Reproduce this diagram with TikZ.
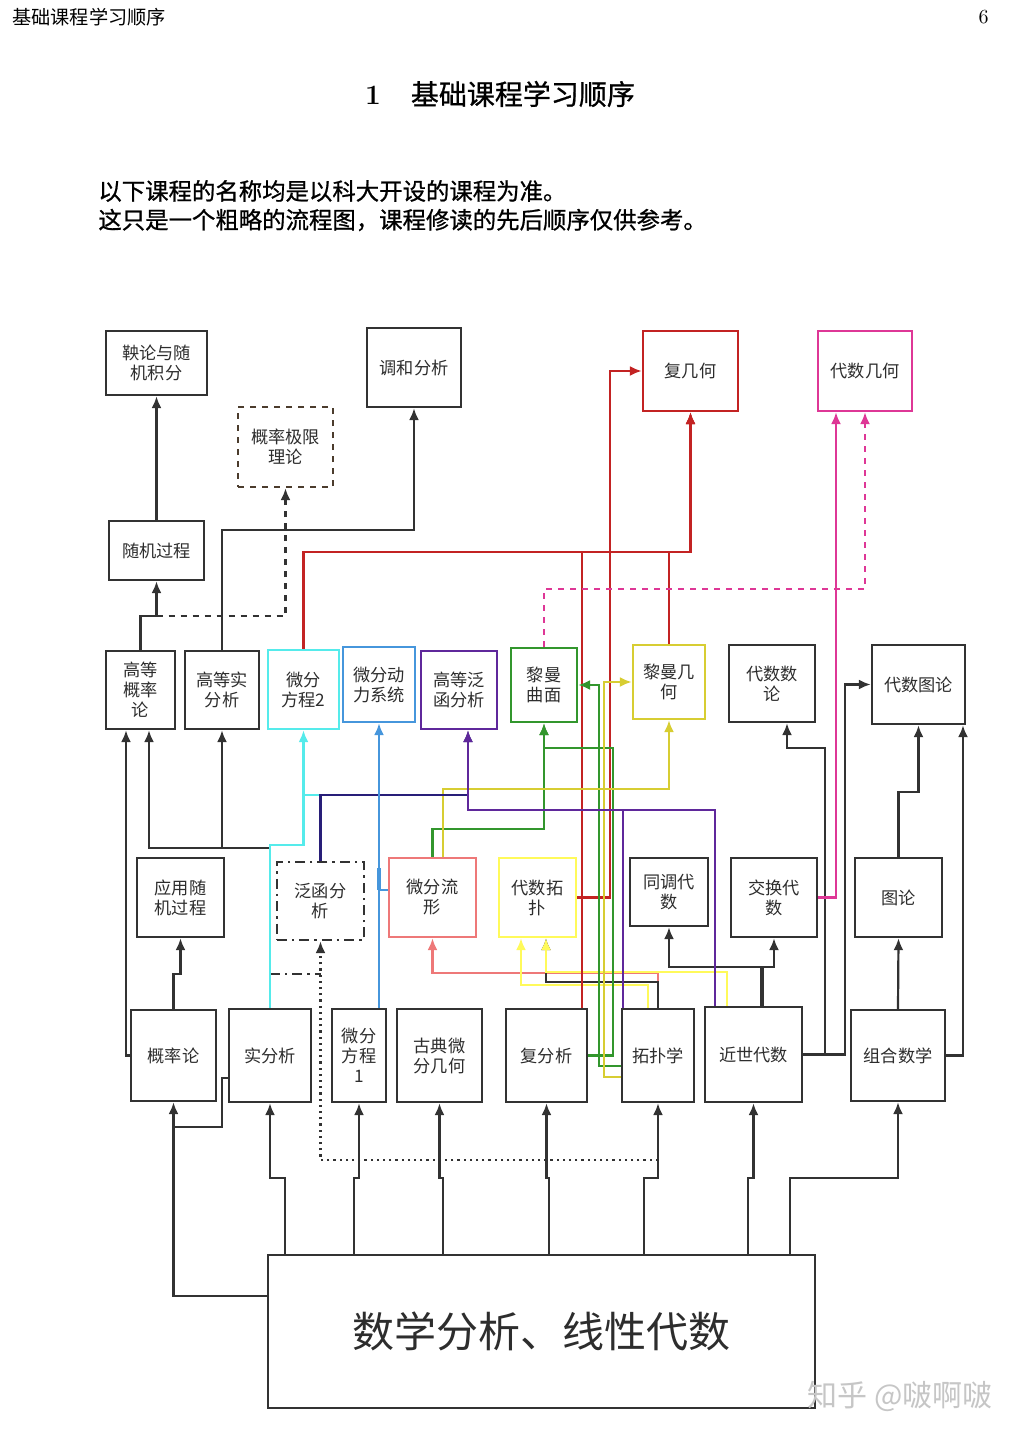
\documentclass[tikz,border=0pt]{standalone}
\usepackage{fontspec}
\newfontfamily\cjk{Noto Sans CJK SC}
\newfontfamily\cjkm{Noto Sans CJK SC}[FakeBold=0.8]
\usetikzlibrary{arrows.meta,calc,positioning}

\definecolor{dgray}{RGB}{50,50,50}
\definecolor{tgray}{RGB}{45,45,45}
\definecolor{cred}{RGB}{195,35,35}
\definecolor{cmag}{RGB}{222,55,150}
\definecolor{ccyan}{RGB}{85,235,235}
\definecolor{cblue}{RGB}{70,150,220}
\definecolor{cpurple}{RGB}{95,40,155}
\definecolor{cnavy}{RGB}{40,30,120}
\definecolor{cgreen}{RGB}{50,150,45}
\definecolor{colive}{RGB}{215,205,50}
\definecolor{clemon}{RGB}{255,250,90}
\definecolor{csalmon}{RGB}{238,120,120}
\definecolor{cbrown}{RGB}{75,60,45}

\tikzset{box/.style={
            draw=dgray,
            line width=1.2pt,
            fill=white,
            inner sep=0pt,
            align=center,
            text=tgray,
            font=\cjk\fontsize{8.6pt}{10pt}\selectfont
        },
        sz/.style 2 args={
            minimum width=#1*0.5pt,
            minimum height=#2*0.5pt
        },
        line/.style={
            color=dgray,
            line width=1.1pt
        },
        arr/.style={
            line,
            -{Latex[length=6pt,width=5pt]}
        }
    }

\begin{document}
\begin{tikzpicture}[x=0.5pt,y=-0.5pt]
        \useasboundingbox (0,0) rectangle (1022,1441);
        \fill[white] (0,0) rectangle (1022,1441);
        % page head and text
        \node[anchor=west,inner sep=0pt,font=\cjk\fontsize{9.6pt}{11pt}\selectfont] (head) at (12,17) {基础课程学习顺序};
        \node[anchor=east,inner sep=0pt,font=\fontsize{10pt}{12pt}\selectfont] (pnum) at (989,17) {6};
        \node[font=\fontsize{14pt}{16pt}\selectfont] (title) at (500,94) {\textbf{1}\hspace{15pt}{\cjkm 基础课程学习顺序}};
        \node[anchor=west,inner sep=0pt,font=\cjkm\fontsize{11.7pt}{14pt}\selectfont] (intro1) at (98,191) {以下课程的名称均是以科大开设的课程为准。};
        \node[anchor=west,inner sep=0pt,font=\cjkm\fontsize{11.7pt}{14pt}\selectfont] (intro2) at (98,220) {这只是一个粗略的流程图，课程修读的先后顺序仅供参考。};
        % top boxes
        \node[box,sz={101}{64}] at (156.5,363) (mart) {鞅论与随\\机积分};
        \node[box,sz={94}{79}] at (414,367.5) (harm) {调和分析};
        \node[box,sz={95}{80},draw=cbrown,dashed] at (285.5,447) (plim) {概率极限\\理论};
        \node[box,sz={95}{80},draw=cred] at (690.5,371) (cgeo) {复几何};
        \node[box,sz={94}{80},draw=cmag] at (865,371) (ageo) {代数几何};
        \node[box,sz={95}{59}] at (156.5,550.5) (stoch) {随机过程};
        % second row
        \node[box,sz={69}{78}] at (140.5,690) (aprob) {高等\\概率\\论};
        \node[box,sz={74}{78}] at (222,690) (areal) {高等实\\分析};
        \node[box,sz={71}{79},draw=ccyan] at (303.5,689.5) (ode2) {微分\\方程2};
        \node[box,sz={72}{75},draw=cblue] at (379,684.5) (dyn) {微分动\\力系统};
        \node[box,sz={76}{78},draw=cpurple] at (459,690) (afun) {高等泛\\函分析};
        \node[box,sz={66}{74},draw=cgreen] at (544,685) (rsurf) {黎曼\\曲面};
        \node[box,sz={72}{74},draw=colive] at (669,682) (rgeo) {黎曼几\\何};
        \node[box,sz={86}{77}] at (772,683.5) (ant) {代数数\\论};
        \node[box,sz={93}{79}] at (918.5,684.5) (agraph) {代数图论};
        % third row
        \node[box,sz={87}{79}] at (180.5,897.5) (astoch) {应用随\\机过程};
        \node[box,sz={87}{78},dash pattern=on 5pt off 2.5pt on 1.2pt off 2.5pt] at (320.5,901) (fun) {泛函分\\析};
        \node[box,sz={87}{79},draw=csalmon] at (432.5,897.5) (mfd) {微分流\\形};
        \node[box,sz={77}{79},draw=clemon] at (537.5,897.5) (atop) {代数拓\\扑};
        \node[box,sz={78}{68}] at (669,892) (homo) {同调代\\数};
        \node[box,sz={86}{79}] at (774,897.5) (comm) {交换代\\数};
        \node[box,sz={87}{79}] at (898.5,897.5) (graph) {图论};
        % fourth row
        \node[box,sz={85}{91}] at (173.5,1055.5) (prob) {概率论};
        \node[box,sz={82}{93}] at (270,1055.5) (real) {实分析};
        \node[box,sz={54}{93}] at (359,1055.5) (ode1) {微分\\方程\\1};
        \node[box,sz={85}{93}] at (439.5,1055.5) (cdg) {古典微\\分几何};
        \node[box,sz={81}{93}] at (546.5,1055.5) (cana) {复分析};
        \node[box,sz={72}{93}] at (658,1055.5) (topo) {拓扑学};
        \node[box,sz={97}{95}] at (753.5,1054.5) (alg) {近世代数};
        \node[box,sz={94}{91}] at (898,1055.5) (comb) {组合数学};
        \node[box,sz={547}{153},font=\cjk\fontsize{21pt}{24pt}\selectfont] at (541.5,1331.5) (base) {数学分析、线性代数};
        \node[font=\cjk\fontsize{15pt}{17pt}\selectfont,text=gray!45] (mark) at (900,1396) {知乎 @啵啊啵};

        % from the base box
        \draw[arr] (base.west |- 0,1296) -| (prob.south);
        \foreach \x/\t in {285/real,354/ode1,443/cdg,549/cana,644/topo,748/alg,790/comb}
            \draw[arr] (base.north -| \x,0) |- (\t.south |- 0,1178) -- (\t.south);
        \draw[line] (real.west |- 0,1078) -| (222,1127) -- (prob.south |- 0,1127);
        \draw[arr,dotted] (topo.south |- 0,1160) -| (fun.south);
        \draw[line,dash pattern=on 5pt off 2.5pt on 1.2pt off 2.5pt] (real.north |- 0,974) -- (fun.south |- 0,974);

        % gray links
        \draw[arr] (prob.north) |- (astoch.south |- 0,974) -- (astoch.south);
        \draw[arr] (prob.west) -| (aprob.south -| 126,0);
        \draw[arr] (real.north |- 0,848) -| (aprob.south -| 149,0);
        \draw[arr] (real.north |- 0,848) -| (areal.south);
        \draw[arr] (aprob.north) |- (stoch.south |- 0,616) -- (stoch.south);
        \draw[arr,dashed] (stoch.south |- 0,616) -| (plim.south);
        \draw[arr] (stoch.north) -- (mart.south);
        \draw[arr] (areal.north) |- (harm.south |- 0,530) -- (harm.south);
        \draw[arr] (alg.north -| 762,0) |- (homo.south |- 0,967) -- (homo.south);
        \draw[arr] (alg.north -| 762,0) |- (comm.south |- 0,967) -- (comm.south);
        \draw[line,line width=1.6pt] (alg.north -| 762,0) -- (762,967);
        \draw[arr] (alg.east) -| (825,748) -| (ant.south -| 787,0);
        \draw[arr] (alg.east) -| (agraph.west -| 845,0) -- (agraph.west);
        \draw[arr] (comb.east) -| (agraph.south -| 963,0);
        \draw[arr] (graph.north) |- (agraph.south |- 0,792) -- (agraph.south);
        \draw[arr] (comb.north) -- (graph.south);

        % topology and algebra into the lower boxes
        \draw[arr,color=csalmon] (topo.north) |- (mfd.south |- 0,973) -- (mfd.south);
        \draw[arr,color=clemon] (topo.north -| 648,0) |- (521,985) -- (atop.south -| 521,0);
        \draw[arr] (topo.north) |- (546,982) -- (atop.south -| 546,0);
        \draw[arr,color=clemon] (alg.north -| 727,0) |- (546,972) -- (atop.south -| 546,0);

        % red: complex geometry
        \draw[arr,color=cred,line width=1.4pt] (ode2.north) |- (cgeo.south |- 0,552) -- (cgeo.south);
        \draw[arr,color=cred] (cana.north -| 582,0) |- (cgeo.south |- 0,552) -- (cgeo.south);
        \draw[arr,color=cred] (rgeo.north) |- (cgeo.south |- 0,552) -- (cgeo.south);
        \draw[arr,color=cred] (atop.east) -| (cgeo.west -| 610,0) -- (cgeo.west);

        % magenta: algebraic geometry
        \draw[arr,color=cmag] (comm.east) -| (ageo.south -| 836,0);
        \draw[arr,color=cmag,dashed] (rsurf.north) |- (ageo.south |- 0,589) -- (ageo.south);

        % green and olive: Riemann
        \draw[arr,color=cgreen] (mfd.north) |- (rsurf.south |- 0,829) -- (rsurf.south);
        \draw[arr,color=cgreen] (cana.east) -| (613,748) -| (rsurf.south);
        \draw[arr,color=cgreen] (topo.west |- 0,1066) -| (rsurf.east -| 599,0) -- (rsurf.east);
        \draw[arr,color=colive] (topo.west |- 0,1077) -| (rgeo.west -| 604,0) -- (rgeo.west);
        \draw[arr,color=colive] (mfd.north -| 443,0) |- (rgeo.south |- 0,789) -- (rgeo.south);

        % cyan, navy, purple, blue
        \draw[arr,color=ccyan,line width=1.3pt] (real.north) |- (ode2.south |- 0,845) -- (ode2.south);
        \draw[line,color=ccyan,line width=1.3pt] (ode2.south |- 0,795) -- (fun.north |- 0,795);
        \draw[arr,color=cnavy] (fun.north) |- (468,795) -- (afun.south -| 468,0);
        \draw[arr,color=cpurple] (topo.north -| 623,0) |- (468,810) -- (afun.south -| 468,0);
        \draw[line,color=cpurple] (alg.north -| 715,0) |- (623,810);
        \draw[arr,color=cblue] (ode1.north -| dyn.south) -- (dyn.south);
        \draw[line,color=cblue] (dyn.south |- 0,868) |- (mfd.west |- 0,890);
        \draw[color=cblue,line width=2.2pt] (dyn.south |- 0,868) -- (dyn.south |- 0,890);
    \end{tikzpicture}
\end{document}
